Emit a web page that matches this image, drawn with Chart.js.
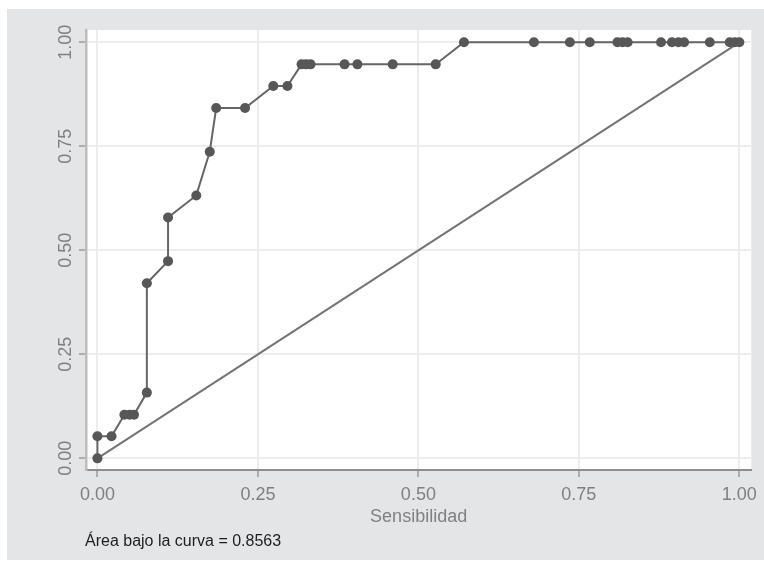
<!DOCTYPE html>
<html>
<head>
<meta charset="utf-8">
<script src="https://cdn.jsdelivr.net/npm/chart.js@4/dist/chart.umd.min.js"></script>
<style>
  html, body { margin: 0; padding: 0; background: #fff; }
  canvas { display: block; }
</style>
</head>
<body>
<canvas id="roc" width="764" height="562"></canvas>
<script>
// puntos de la curva ROC
var rocX = [0, 0, 0.022, 0.042, 0.050, 0.057, 0.077, 0.077, 0.110, 0.110, 0.154, 0.175, 0.185,
            0.230, 0.274, 0.296, 0.318, 0.325, 0.332, 0.385, 0.405, 0.460, 0.527, 0.571,
            0.680, 0.736, 0.767, 0.810, 0.818, 0.826, 0.878, 0.895, 0.905, 0.914, 0.954,
            0.985, 0.993, 1];
var rocY = [0, 0.053, 0.053, 0.105, 0.105, 0.105, 0.158, 0.421, 0.474, 0.579, 0.632, 0.737, 0.842,
            0.842, 0.895, 0.895, 0.947, 0.947, 0.947, 0.947, 0.947, 0.947, 0.947, 1,
            1, 1, 1, 1, 1, 1, 1, 1, 1, 1, 1,
            1, 1, 1];
// linea de referencia
var refX = [0, 1];
var refY = [0, 1];

var tickValues = [0, 0.25, 0.5, 0.75, 1];
var xTickLabels = ["0.00", "0.25", "0.50", "0.75", "1.00"];
var yTickLabels = ["0.00", "0.25", "0.50", "0.75", "1.00"];
var xTitle = "Sensibilidad";
var note = "Área bajo la curva = 0.8563";

var FONT = "'Liberation Sans', Arial, sans-serif";

function toPoints(xs, ys) {
    return xs.map(function (x, i) { return { x: x, y: ys[i] }; });
}

var backdrop = {
    id: 'backdrop',
    beforeDraw: function (chart) {
        var ctx = chart.ctx, a = chart.chartArea;
        ctx.save();
        ctx.fillStyle = '#ffffff';
        ctx.fillRect(0, 0, chart.width, chart.height);
        ctx.fillStyle = '#e4e5e7';
        ctx.fillRect(7, 9, chart.width - 7, chart.height - 11);
        ctx.fillStyle = '#ffffff';
        ctx.fillRect(a.left, a.top, a.right - a.left, a.bottom - a.top);
        ctx.restore();
    },
    afterDraw: function (chart) {
        var ctx = chart.ctx, ys = chart.scales.y;
        ctx.save();
        // etiquetas del eje y, giradas
        ctx.font = '18px ' + FONT;
        ctx.fillStyle = '#808080';
        ctx.textAlign = 'center';
        ctx.textBaseline = 'middle';
        tickValues.forEach(function (v, i) {
            ctx.save();
            ctx.translate(66, ys.getPixelForValue(v));
            ctx.rotate(-Math.PI / 2);
            ctx.fillText(yTickLabels[i], 0, 0);
            ctx.restore();
        });
        // nota del area
        ctx.font = '16px ' + FONT;
        ctx.fillStyle = '#1e1e1e';
        ctx.textAlign = 'left';
        ctx.textBaseline = 'alphabetic';
        ctx.fillText(note, 85, 546);
        ctx.restore();
    }
};

new Chart(document.getElementById('roc'), {
    type: 'scatter',
    data: {
        datasets: [{
            data: toPoints(rocX, rocY),
            showLine: true,
            borderColor: '#666666',
            borderWidth: 2,
            pointRadius: 5,
            pointBackgroundColor: '#575757',
            pointBorderWidth: 0,
            tension: 0
        }, {
            data: toPoints(refX, refY),
            showLine: true,
            borderColor: '#747474',
            borderWidth: 2,
            pointRadius: 0,
            tension: 0
        }]
    },
    options: {
        responsive: false,
        animation: false,
        layout: { padding: { top: 30, right: 8, left: 0, bottom: 0 } },
        plugins: { legend: { display: false }, tooltip: { enabled: false } },
        scales: {
            x: {
                type: 'linear',
                min: -0.0178,
                max: 1.0186,
                afterBuildTicks: function (s) { s.ticks = tickValues.map(function (v) { return { value: v }; }); },
                afterFit: function (s) { s.height = 92; },
                grid: { color: '#ededed', lineWidth: 2, tickLength: 7, tickColor: '#9a9a9a', tickWidth: 1.5 },
                border: { color: '#8e8e8e', width: 2 },
                ticks: {
                    padding: 7,
                    color: '#808080',
                    font: { family: FONT, size: 18 },
                    maxRotation: 0,
                    callback: function (v, i) { return xTickLabels[i]; }
                },
                title: {
                    display: true,
                    text: xTitle,
                    color: '#808080',
                    font: { family: FONT, size: 18 },
                    padding: { top: 0, bottom: 34 }
                }
            },
            y: {
                type: 'linear',
                min: -0.028,
                max: 1.0296,
                afterBuildTicks: function (s) { s.ticks = tickValues.map(function (v) { return { value: v }; }); },
                afterFit: function (s) { s.width = 86; },
                grid: { color: '#ededed', lineWidth: 2, tickLength: 7, tickColor: '#9a9a9a', tickWidth: 1.5 },
                border: { color: '#bcbcbc', width: 2.5 },
                ticks: { display: false }
            }
        }
    },
    plugins: [backdrop]
});
</script>
</body>
</html>
